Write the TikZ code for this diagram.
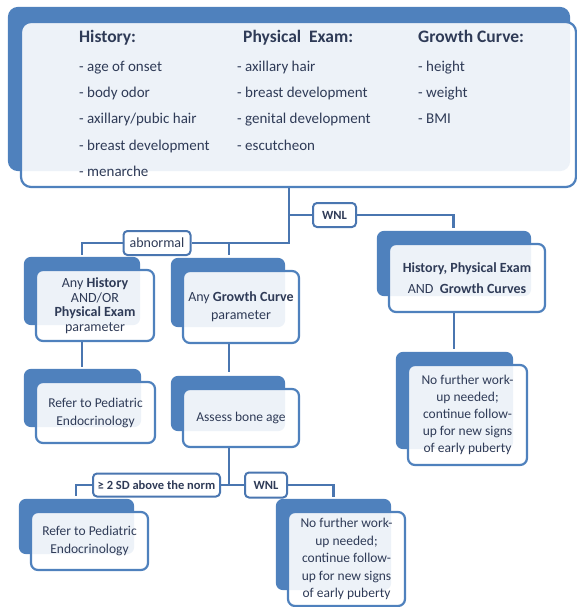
\documentclass[tikz,border=0pt]{standalone}
\usepackage{fontspec}
\setmainfont{Carlito}
\usepackage{xcolor}
\definecolor{boxblue}{HTML}{4F81BD}
\definecolor{linkblue}{HTML}{4A76B0}
\definecolor{ink}{HTML}{2F3B57}
\usepackage{tikz}
\usetikzlibrary{backgrounds,calc}

\tikzset{
  card/.style={draw=boxblue, line width=2.2pt, rounded corners=7pt, fill=white,
    fill opacity=0.9, text opacity=1, text=ink, align=center, inner sep=0pt,
    font=\fontsize{14}{15}\selectfont},
  plate/.style={fill=boxblue, rounded corners=7pt},
  tag/.style={draw=linkblue, line width=2pt, rounded corners=4pt, fill=white,
    text=ink, inner sep=0pt, font=\bfseries\fontsize{12.5}{14}\selectfont},
  link/.style={draw=linkblue, line width=2.4pt},
  head/.style={anchor=base west, text=ink, inner sep=0pt, font=\bfseries\fontsize{17.5}{20}\selectfont},
  item/.style={anchor=base west, text=ink, inner sep=0pt, font=\fontsize{15}{18}\selectfont},
}
\newcommand\backplate[1]{\fill[plate] ([shift={(-11,-12)}]#1.north west) rectangle ([shift={(-15,-17)}]#1.south east);}

\begin{document}
\begin{tikzpicture}[x=1pt,y=-1pt]
  \useasboundingbox (0,0) rectangle (577,607);
  % top panel
  \node[card, rounded corners=10pt, minimum width=555pt, minimum height=165pt] (top) at (298.5,104.5) {};
  \node[head] (histhead) at (79,43) {History:};
  \node[head] (physhead) at (243,43) {Physical\ \ Exam:};
  \node[head] (growhead) at (418,43) {Growth Curve:};
  \foreach \t [count=\k] in {age of onset,body odor,axillary/pubic hair,breast development,menarche}
    \node[item] (hist\k) at (79,{46+26*\k}) {- \t};
  \foreach \t [count=\k] in {axillary hair,breast development,genital development,escutcheon}
    \node[item] (phys\k) at (237,{46+26*\k}) {- \t};
  \foreach \t [count=\k] in {height,weight,BMI}
    \node[item] (grow\k) at (418,{46+26*\k}) {- \t};

  % abnormal side
  \node[card, minimum width=118pt, minimum height=71pt, font=\fontsize{14}{14.5}\selectfont] (hist) at (95,305.5)
    {Any {\bfseries History}\\AND/OR\\{\bfseries Physical Exam}\\parameter};
  \node[card, minimum width=116pt, minimum height=72pt, font=\fontsize{14}{18}\selectfont] (grc) at (241,307)
    {Any {\bfseries Growth Curve}\\parameter};
  \node[card, minimum width=119pt, minimum height=61pt, font=\fontsize{13.5}{18}\selectfont] (ref1) at (95.5,412.5)
    {Refer to Pediatric\\Endocrinology};
  \node[card, minimum width=116pt, minimum height=58pt, font=\fontsize{13.5}{18}\selectfont] (bone) at (241,418)
    {Assess bone age};
  \node[card, minimum width=117pt, minimum height=58pt, font=\fontsize{13.5}{18}\selectfont] (ref2) at (89.5,541)
    {Refer to Pediatric\\Endocrinology};
  \node[card, minimum width=117pt, minimum height=94pt, font=\fontsize{13.5}{17.5}\selectfont] (nof2) at (346.5,559)
    {No further work-\\up needed;\\continue follow-\\up for new signs\\of early puberty};

  % WNL side
  \node[card, minimum width=156pt, minimum height=68pt, font=\fontsize{14}{21}\selectfont] (hpe) at (467,278)
    {{\bfseries History, Physical Exam}\\AND\ \ {\bfseries Growth Curves}};
  \node[card, minimum width=119pt, minimum height=100pt, font=\fontsize{13.5}{17}\selectfont] (nof1) at (467.5,415)
    {No further work-\\up needed;\\continue follow-\\up for new signs\\of early puberty};

  % back plates
  \begin{scope}[on background layer]
    \fill[plate, rounded corners=10pt] ([shift={(-12,-14)}]top.north west) rectangle ([shift={(-7,-17)}]top.south east);
    \foreach \n in {hist,grc,ref1,bone,ref2,nof2,hpe,nof1} {\backplate{\n}}
  \end{scope}

  % labels
  \node[tag, font=\fontsize{14}{16}\selectfont, minimum width=67pt, minimum height=24pt] (abn) at (157,243) {abnormal};
  \node[tag, minimum width=43pt, minimum height=24pt] (wnl1) at (334.5,215) {WNL};
  \node[tag, minimum width=127pt, minimum height=23pt] (sd) at (156.5,485) {≥ 2 SD above the norm};
  \node[tag, minimum width=42pt, minimum height=25pt] (wnl2) at (266,485) {WNL};

  % junctions and entry points
  \coordinate (j1) at (289,243);
  \coordinate (j2) at (289,215);
  \coordinate (j3) at (229,485);
  \coordinate (hist-in) at (82,255);
  \coordinate (grc-in) at (229,255);
  \coordinate (hpe-in) at (453.5,228);
  \coordinate (ref1-in) at (82,367);
  \coordinate (bone-in) at (229,372);
  \coordinate (nof1-in) at (454,349);
  \coordinate (ref2-in) at (76,496);
  \coordinate (nof2-in) at (333.5,497);

  % connectors
  \draw[link] (top.south -| j1) -- (j1) -- (abn);
  \draw[link] (abn) -| (hist-in);
  \draw[link] (grc-in |- j1) -- (grc-in);
  \draw[link] (j2) -- (wnl1);
  \draw[link] (wnl1) -| (hpe-in);
  \draw[link] (hist.south -| ref1-in) -- (ref1-in);
  \draw[link] (grc.south -| bone-in) -- (bone-in);
  \draw[link] (hpe.south -| nof1-in) -- (nof1-in);
  \draw[link] (bone.south -| j3) -- (j3) -- (sd);
  \draw[link] (sd) -| (ref2-in);
  \draw[link] (j3) -- (wnl2);
  \draw[link] (wnl2) -| (nof2-in);
\end{tikzpicture}
\end{document}
